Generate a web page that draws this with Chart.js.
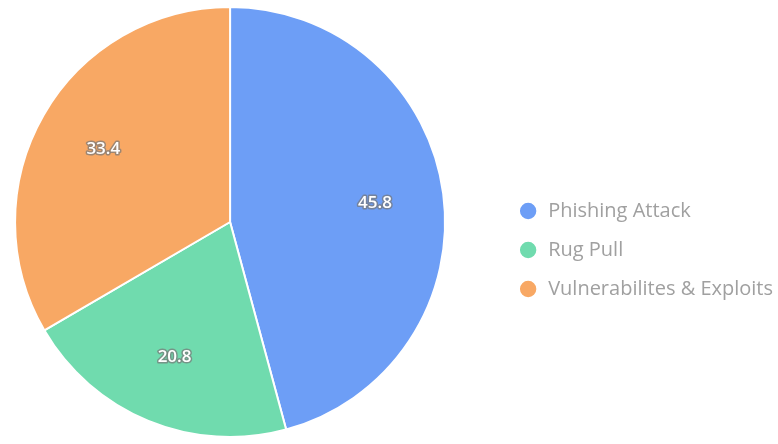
<!DOCTYPE html>
<html>
<head>
<meta charset="utf-8">
<script src="https://cdn.jsdelivr.net/npm/chart.js@4.4.0/dist/chart.umd.min.js"></script>
<style>
  html, body { margin: 0; padding: 0; background: #fff; overflow: hidden; }
  #wrap { width: 778px; height: 444px; overflow: hidden; position: relative; }
  #inner { position: absolute; left: -39px; top: 0; width: 822px; height: 444px; }
</style>
</head>
<body>
<div id="wrap"><div id="inner"><canvas id="myChart"></canvas></div></div>
<script>
let categories = ['Phishing Attack', 'Rug Pull', 'Vulnerabilites & Exploits'];
let shares = [45.8, 20.8, 33.4];
let sliceColors = ['#6d9ef6', '#70dbae', '#f8a864'];

// draws the value on each slice (white with a grey outline)
const sliceLabels = {
    id: 'sliceLabels',
    afterDatasetsDraw(chart) {
        let ctx = chart.ctx;
        let meta = chart.getDatasetMeta(0);
        ctx.save();
        ctx.font = '600 17px "Open Sans"';
        ctx.textAlign = 'center';
        ctx.textBaseline = 'middle';
        meta.data.forEach(function (arc, i) {
            let mid = (arc.startAngle + arc.endAngle) / 2;
            let r = arc.outerRadius * 0.68;
            let x = arc.x + Math.cos(mid) * r;
            let y = arc.y + Math.sin(mid) * r;
            ctx.lineWidth = 3;
            ctx.lineJoin = 'round';
            ctx.strokeStyle = 'rgba(120,120,120,0.7)';
            ctx.strokeText(shares[i], x, y);
            ctx.fillStyle = '#ffffff';
            ctx.fillText(shares[i], x, y);
        });
        ctx.restore();
    }
};

let ctx = document.getElementById('myChart').getContext('2d');
let chart = new Chart(ctx, {
    type: 'pie',
    data: {
        labels: categories,
        datasets: [{
            data: shares,
            backgroundColor: sliceColors,
            borderColor: '#ffffff',
            borderWidth: 2
        }]
    },
    options: {
        responsive: true,
        maintainAspectRatio: false,
        animation: false,
        layout: { padding: { top: 6, bottom: 6, left: 0, right: 0 } },
        plugins: {
            tooltip: { enabled: false },
            legend: {
                position: 'right',
                // empty title only pushes the items a bit lower, like the original
                title: { display: true, text: ' ', font: { size: 10 }, padding: { top: 0, bottom: 44 } },
                labels: {
                    usePointStyle: true,
                    pointStyle: 'circle',
                    boxWidth: 20,
                    boxHeight: 13,
                    padding: 19,
                    color: '#a0a0a0',
                    font: { family: 'Open Sans', size: 20 }
                }
            }
        }
    },
    plugins: [sliceLabels]
});
</script>
</body>
</html>
